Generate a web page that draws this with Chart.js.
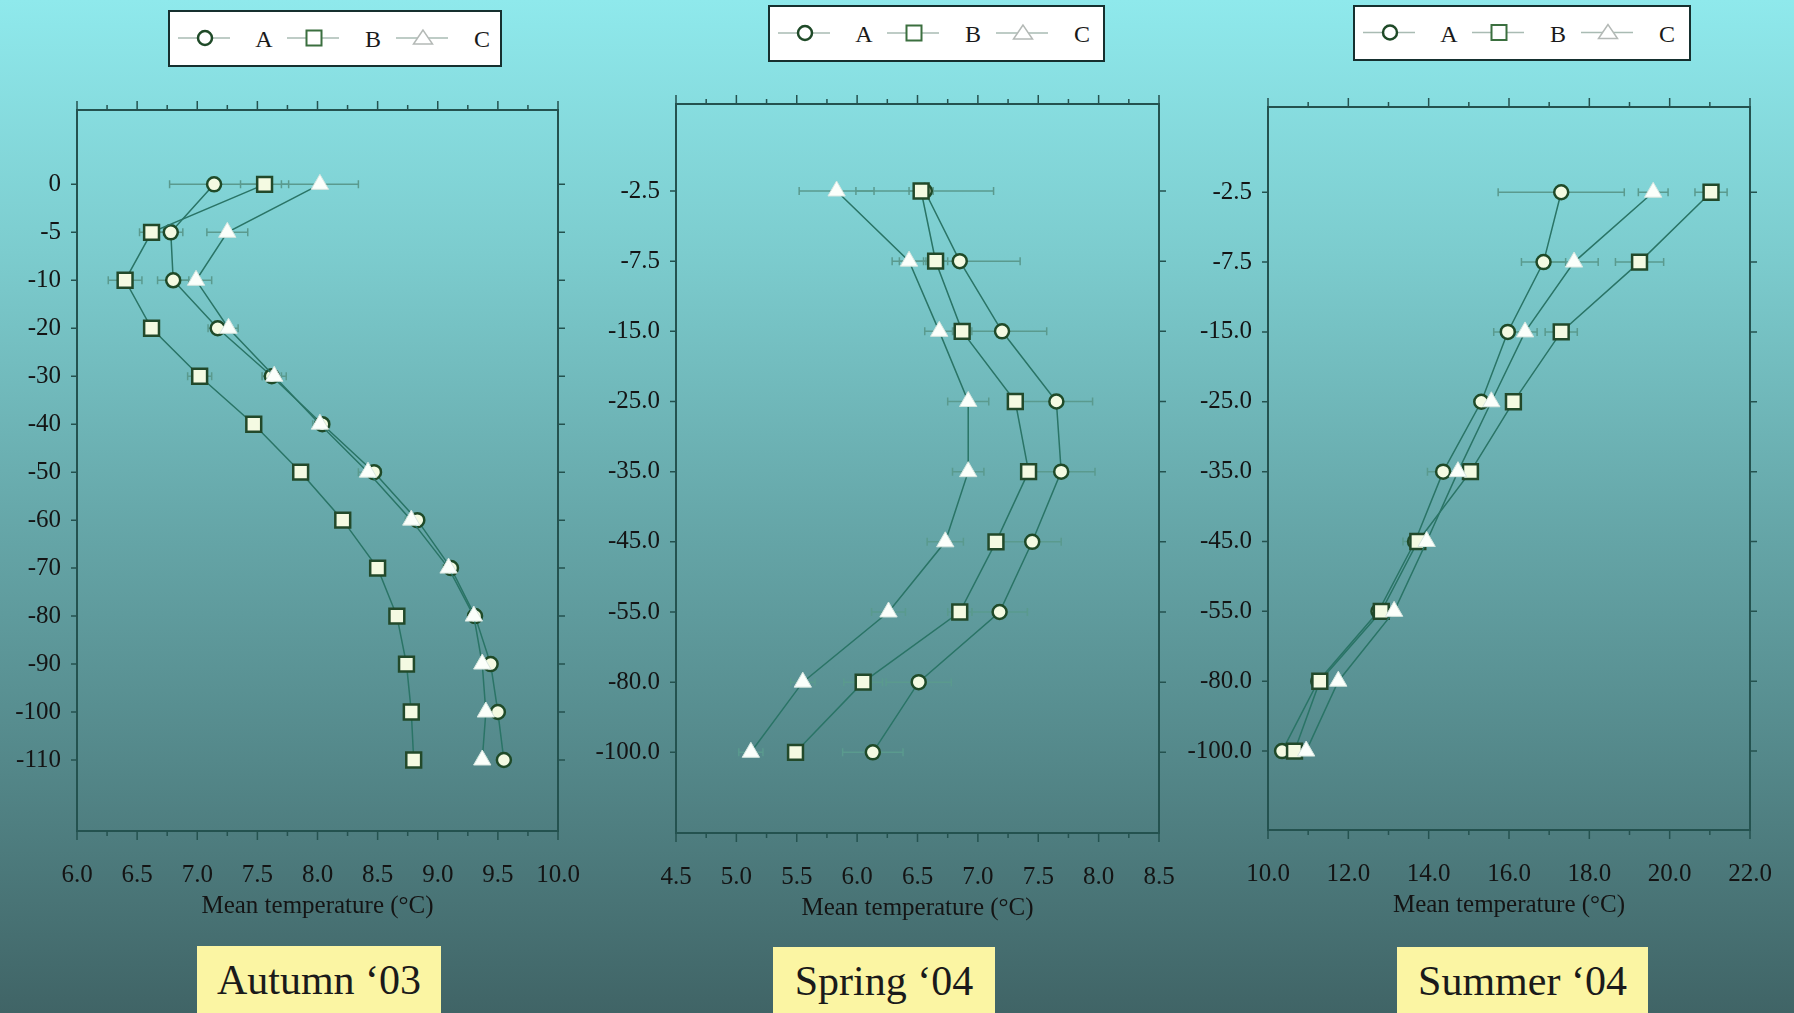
<!DOCTYPE html>
<html>
<head>
<meta charset="utf-8">
<script src="https://cdn.jsdelivr.net/npm/chart.js@4.4.1/dist/chart.umd.min.js"></script>
<style>
html,body{margin:0;padding:0;}
body{width:1794px;height:1013px;overflow:hidden;position:relative;
  background:linear-gradient(to bottom,#8fe9ec 0%,#7cccce 25%,#67a9ab 50%,#54888a 75%,#406466 100%);
  font-family:"Liberation Serif","Times New Roman",serif;}
canvas{position:absolute;top:0;}
.legend{position:absolute;background:#ffffff;border:2.5px solid #16302f;box-sizing:border-box;}
.legend svg{position:absolute;left:0;top:0;}
.legend span{position:absolute;font-size:24px;color:#1a1a1a;line-height:24px;transform:translate(-50%,-50%);}
.title{position:absolute;background:#fbf5a3;text-align:center;font-size:42px;color:#1a1a1a;}
</style>
</head>
<body>
<script>
// ---------------- data ----------------
const seriesNames = ['A', 'B', 'C'];

const autumnDepths = ['0', '-5', '-10', '-20', '-30', '-40', '-50', '-60', '-70', '-80', '-90', '-100', '-110'];
const autumnXTicks = [6.0, 6.5, 7.0, 7.5, 8.0, 8.5, 9.0, 9.5, 10.0];
const autumnA = [7.14, 6.78, 6.80, 7.17, 7.62, 8.04, 8.47, 8.83, 9.11, 9.31, 9.44, 9.50, 9.55];
const autumnB = [7.56, 6.62, 6.40, 6.62, 7.02, 7.47, 7.86, 8.21, 8.50, 8.66, 8.74, 8.78, 8.80];
const autumnC = [8.02, 7.25, 6.99, 7.26, 7.64, 8.02, 8.42, 8.78, 9.09, 9.30, 9.37, 9.40, 9.37];
const autumnErrA = [0.37, 0.10, 0.13, 0.08, 0.08, 0.06, 0.06, 0.05, 0.05, 0.05, 0.05, 0.04, 0.04];
const autumnErrB = [0.20, 0.10, 0.14, 0.06, 0.10, 0.05, 0.05, 0.04, 0.04, 0.04, 0.03, 0.03, 0.03];
const autumnErrC = [0.32, 0.17, 0.13, 0.08, 0.10, 0.06, 0.08, 0.05, 0.05, 0.05, 0.04, 0.04, 0.04];

const springDepths = ['-2.5', '-7.5', '-15.0', '-25.0', '-35.0', '-45.0', '-55.0', '-80.0', '-100.0'];
const springXTicks = [4.5, 5.0, 5.5, 6.0, 6.5, 7.0, 7.5, 8.0, 8.5];
const springA = [6.56, 6.85, 7.20, 7.65, 7.69, 7.45, 7.18, 6.51, 6.13];
const springB = [6.53, 6.65, 6.87, 7.31, 7.42, 7.15, 6.85, 6.05, 5.49];
const springC = [5.83, 6.43, 6.68, 6.92, 6.92, 6.73, 6.26, 5.55, 5.12];
const springErrA = [0.57, 0.50, 0.37, 0.30, 0.28, 0.24, 0.23, 0.27, 0.25];
const springErrB = [0.10, 0.10, 0.08, 0.06, 0.05, 0.06, 0.10, 0.16, 0.05];
const springErrC = [0.31, 0.14, 0.12, 0.17, 0.13, 0.15, 0.14, 0.10, 0.10];

const summerDepths = ['-2.5', '-7.5', '-15.0', '-25.0', '-35.0', '-45.0', '-55.0', '-80.0', '-100.0'];
const summerXTicks = [10.0, 12.0, 14.0, 16.0, 18.0, 20.0, 22.0];
const summerA = [17.30, 16.86, 15.97, 15.31, 14.36, 13.66, 12.75, 11.25, 10.35];
const summerB = [21.03, 19.25, 17.30, 16.11, 15.04, 13.73, 12.82, 11.29, 10.66];
const summerC = [19.59, 17.62, 16.40, 15.56, 14.73, 13.95, 13.14, 11.75, 10.95];
const summerErrA = [1.57, 0.55, 0.35, 0.15, 0.39, 0.30, 0.10, 0.10, 0.08];
const summerErrB = [0.40, 0.60, 0.40, 0.10, 0.20, 0.10, 0.10, 0.10, 0.08];
const summerErrC = [0.37, 0.60, 0.30, 0.10, 0.20, 0.10, 0.10, 0.10, 0.08];

const axisTitle = 'Mean temperature (°C)';

// ---------------- layout / style ----------------
const H = 950;
const FONT = '"Liberation Serif", "Times New Roman", serif';
const AXIS = '#24524f';
const LINE = '#2a7466';
const ERR = '#5a9a8e';

const panels = [
  { depths: autumnDepths, xTicks: autumnXTicks, vals: [autumnA, autumnB, autumnC], errs: [autumnErrA, autumnErrB, autumnErrC],
    title: 'Autumn \u201803',
    canvasLeft: 0, canvasWidth: 640, plotLeft: 77, plotRight: 558, plotTop: 110, plotBottom: 831, yMin: -1.55, yMax: 13.48,
    legend: { l: 168, t: 10, w: 334, h: 57 }, tbox: { l: 197, t: 946, w: 244 } },
  { depths: springDepths, xTicks: springXTicks, vals: [springA, springB, springC], errs: [springErrA, springErrB, springErrC],
    title: 'Spring \u201804',
    canvasLeft: 590, canvasWidth: 650, plotLeft: 676, plotRight: 1159, plotTop: 104, plotBottom: 833, yMin: -1.24, yMax: 9.15,
    legend: { l: 768, t: 5, w: 337, h: 57 }, tbox: { l: 773, t: 947, w: 222 } },
  { depths: summerDepths, xTicks: summerXTicks, vals: [summerA, summerB, summerC], errs: [summerErrA, summerErrB, summerErrC],
    title: 'Summer \u201804',
    canvasLeft: 1180, canvasWidth: 680, plotLeft: 1268, plotRight: 1750, plotTop: 107, plotBottom: 830, yMin: -1.22, yMax: 9.13,
    legend: { l: 1353, t: 5, w: 338, h: 56 }, tbox: { l: 1397, t: 947, w: 251 } }
];

const markerStyles = [
  { pointStyle: 'circle', pointRadius: 7, pointBorderWidth: 2.5, pointBorderColor: '#1f4a28', pointBackgroundColor: '#f4fae2', order: 3 },
  { pointStyle: 'rect', pointRadius: 10.5, pointBorderWidth: 2.5, pointBorderColor: '#22492a', pointBackgroundColor: '#f4fae2', order: 2 },
  { pointStyle: 'triangle', pointRadius: 10, pointBorderWidth: 1, pointBorderColor: '#d8e6e0', pointBackgroundColor: '#fbfffb', order: 1 }
];

// ---------------- plugins ----------------
const framePlugin = {
  id: 'frame',
  afterDraw(chart, args, o) {
    const { ctx, chartArea: a } = chart;
    const xs = chart.scales.x, ys = chart.scales.y;
    ctx.save();
    ctx.strokeStyle = AXIS;
    ctx.lineWidth = 2;
    ctx.beginPath();
    ctx.rect(a.left, a.top, a.right - a.left, a.bottom - a.top);
    ctx.stroke();
    ctx.lineWidth = 1.5;
    const major = o.xTicks[1] - o.xTicks[0];
    const minor = major / 2;
    const n = Math.round((xs.max - xs.min) / minor);
    ctx.beginPath();
    for (let i = 0; i <= n; i++) {
      const px = xs.getPixelForValue(xs.min + i * minor);
      const big = i % 2 === 0;
      ctx.moveTo(px, a.top); ctx.lineTo(px, a.top - (big ? 9 : 5));
      ctx.moveTo(px, a.bottom); ctx.lineTo(px, a.bottom + (big ? 9 : 5));
    }
    ys.ticks.forEach(t => {
      const py = ys.getPixelForValue(t.value);
      ctx.moveTo(a.left, py); ctx.lineTo(a.left - 6, py);
      ctx.moveTo(a.right, py); ctx.lineTo(a.right + 7, py);
    });
    ctx.stroke();
    ctx.restore();
  }
};

const errPlugin = {
  id: 'errbars',
  beforeDatasetsDraw(chart) {
    const { ctx } = chart;
    const xs = chart.scales.x, ys = chart.scales.y;
    ctx.save();
    ctx.strokeStyle = ERR;
    ctx.lineWidth = 1.5;
    chart.data.datasets.forEach(ds => {
      if (!ds.errors) return;
      ds.data.forEach((pt, i) => {
        const e = ds.errors[i];
        if (!e) return;
        const x1 = xs.getPixelForValue(pt.x - e), x2 = xs.getPixelForValue(pt.x + e);
        const y = ys.getPixelForValue(pt.y);
        ctx.beginPath();
        ctx.moveTo(x1, y); ctx.lineTo(x2, y);
        ctx.moveTo(x1, y - 4); ctx.lineTo(x1, y + 4);
        ctx.moveTo(x2, y - 4); ctx.lineTo(x2, y + 4);
        ctx.stroke();
      });
    });
    ctx.restore();
  }
};

// ---------------- builders ----------------
function legendSVG(w, h) {
  const mid = h / 2 - 2.5;
  let s = `<svg width="${w}" height="${h}" xmlns="http://www.w3.org/2000/svg">`;
  for (let i = 0; i < 3; i++) {
    const x0 = 8 + i * 109, cx = x0 + 27;
    s += `<line x1="${x0}" y1="${mid}" x2="${x0 + 52}" y2="${mid}" stroke="#a9bbb3" stroke-width="1.5"/>`;
    if (i === 0) s += `<circle cx="${cx}" cy="${mid}" r="7" fill="#ffffff" stroke="#1f4a28" stroke-width="2.5"/>`;
    if (i === 1) s += `<rect x="${cx - 7.5}" y="${mid - 7.5}" width="15" height="15" fill="#ffffff" stroke="#3b6f3f" stroke-width="2"/>`;
    if (i === 2) s += `<polygon points="${cx},${mid - 8} ${cx - 9.5},${mid + 6} ${cx + 9.5},${mid + 6}" fill="#ffffff" stroke="#b4b9b6" stroke-width="1.5"/>`;
  }
  return s + '</svg>';
}

function makePanel(p) {
  // legend
  const lg = document.createElement('div');
  lg.className = 'legend';
  Object.assign(lg.style, { left: p.legend.l + 'px', top: p.legend.t + 'px', width: p.legend.w + 'px', height: p.legend.h + 'px' });
  lg.innerHTML = legendSVG(p.legend.w, p.legend.h);
  seriesNames.forEach((nm, i) => {
    const sp = document.createElement('span');
    sp.textContent = nm;
    sp.style.left = (94 + i * 109) + 'px';
    sp.style.top = (p.legend.h / 2 - 1.5) + 'px';
    lg.appendChild(sp);
  });
  document.body.appendChild(lg);

  // title box
  const tb = document.createElement('div');
  tb.className = 'title';
  const th = 1013 - p.tbox.t;
  Object.assign(tb.style, { left: p.tbox.l + 'px', top: p.tbox.t + 'px', width: p.tbox.w + 'px', height: th + 'px', lineHeight: (th + 2) + 'px' });
  tb.textContent = p.title;
  document.body.appendChild(tb);

  // chart
  const cv = document.createElement('canvas');
  cv.width = p.canvasWidth; cv.height = H;
  cv.style.left = p.canvasLeft + 'px';
  cv.style.width = p.canvasWidth + 'px'; cv.style.height = H + 'px';
  document.body.appendChild(cv);

  const datasets = p.vals.map((vals, si) => Object.assign({
    label: seriesNames[si],
    data: vals.map((v, i) => ({ x: v, y: i })),
    errors: p.errs[si],
    borderColor: LINE,
    borderWidth: 1.5,
    fill: false,
    tension: 0
  }, markerStyles[si]));

  const tickFont = { family: FONT, size: 25 };
  const titleLH = 30;
  const titlePadBottom = H - (p.plotBottom + 75) - titleLH / 2;

  new Chart(cv.getContext('2d'), {
    type: 'line',
    data: { datasets },
    plugins: [errPlugin, framePlugin],
    options: {
      responsive: false,
      animation: false,
      events: [],
      devicePixelRatio: 1,
      layout: { padding: { top: p.plotTop, right: p.canvasWidth - (p.plotRight - p.canvasLeft), left: 0, bottom: 0 } },
      plugins: { legend: { display: false }, tooltip: { enabled: false }, frame: { xTicks: p.xTicks } },
      scales: {
        x: {
          type: 'linear',
          min: p.xTicks[0], max: p.xTicks[p.xTicks.length - 1],
          afterFit(s) { s.height = H - p.plotBottom; },
          afterBuildTicks(s) { s.ticks = p.xTicks.map(v => ({ value: v })); },
          ticks: { callback: v => Number(v).toFixed(1), padding: 29, color: '#141414', font: tickFont, maxRotation: 0, autoSkip: false },
          grid: { display: false, drawTicks: false },
          border: { display: false },
          title: { display: true, text: axisTitle, color: '#141414', font: { family: FONT, size: 25, lineHeight: titleLH / 25 }, padding: { top: 0, bottom: titlePadBottom } }
        },
        y: {
          type: 'linear',
          reverse: true,
          min: p.yMin, max: p.yMax,
          afterFit(s) { s.width = p.plotLeft - p.canvasLeft; },
          afterBuildTicks(s) { s.ticks = p.depths.map((_, i) => ({ value: i })); },
          ticks: { callback: v => p.depths[v], padding: 16, color: '#141414', font: tickFont, autoSkip: false },
          grid: { display: false, drawTicks: false },
          border: { display: false }
        }
      }
    }
  });
}

panels.forEach(makePanel);
</script>
</body>
</html>
